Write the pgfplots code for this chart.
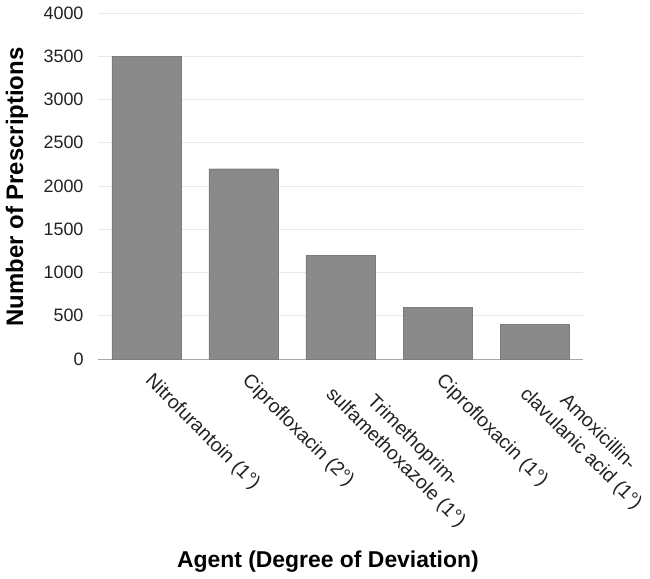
\documentclass[border=0pt]{standalone}
\usepackage{pgfplots}
\pgfplotsset{compat=1.18}
\usepackage{fontspec}
\setmainfont{Liberation Sans}
\definecolor{barfill}{HTML}{8A8A8A}
\definecolor{gridc}{HTML}{E8E8E8}
\definecolor{basec}{HTML}{A8A8A8}
\definecolor{tickc}{HTML}{222222}
\begin{document}
\begin{tikzpicture}
\begin{axis}[
  at={(0,0)}, anchor=south west,
  scale only axis, width=485bp, height=346bp,
  xmin=-0.5, xmax=4.5, ymin=0, ymax=4000,
  ytick={0,500,...,4000},
  xtick={0,1,2,3,4},
  xticklabels={{Nitrofurantoin (1°)},{Ciprofloxacin (2°)},{\raisebox{0pt}[0.45em]{Trimethoprim-}\\sulfamethoxazole (1°)},{Ciprofloxacin (1°)},{\raisebox{0pt}[0.45em]{Amoxicillin-}\\clavulanic acid (1°)}},
  axis line style={draw=none},
  major tick length=0pt,
  ymajorgrids, grid style={gridc, line width=0.8pt},
  extra y ticks={0}, extra y tick labels={},
  extra y tick style={grid style={basec, line width=1pt}},
  scaled y ticks=false,
  /pgf/number format/assume math mode=true,
  /pgf/number format/1000 sep={},
  yticklabel style={font=\fontsize{18}{20}\selectfont, text=tickc, xshift=-11bp},
  xticklabel style={font=\fontsize{19.5}{24}\selectfont, text=tickc, rotate=-45, anchor=north west, align=center, xshift=11.3bp, yshift=0bp},
  ylabel={\bfseries Number of Prescriptions},
  ylabel style={font=\fontsize{24}{28}\selectfont, at={(axis description cs:-0.167,0.497)}, anchor=center, rotate=0},
  xlabel={\bfseries Agent (Degree of Deviation)},
  xlabel style={font=\fontsize{23}{28}\selectfont, at={(axis description cs:0.474,-0.587)}, anchor=center},
  clip=false,
]
\addplot[ybar, bar width=69bp, fill=barfill, draw=barfill!90!black, line width=0.4pt] coordinates {(0,3500) (1,2200) (2,1200) (3,600) (4,400)};
\end{axis}
\pgfresetboundingbox
\path[use as bounding box] (-98bp,-220bp) rectangle (552bp,359bp);
\end{tikzpicture}
\end{document}
